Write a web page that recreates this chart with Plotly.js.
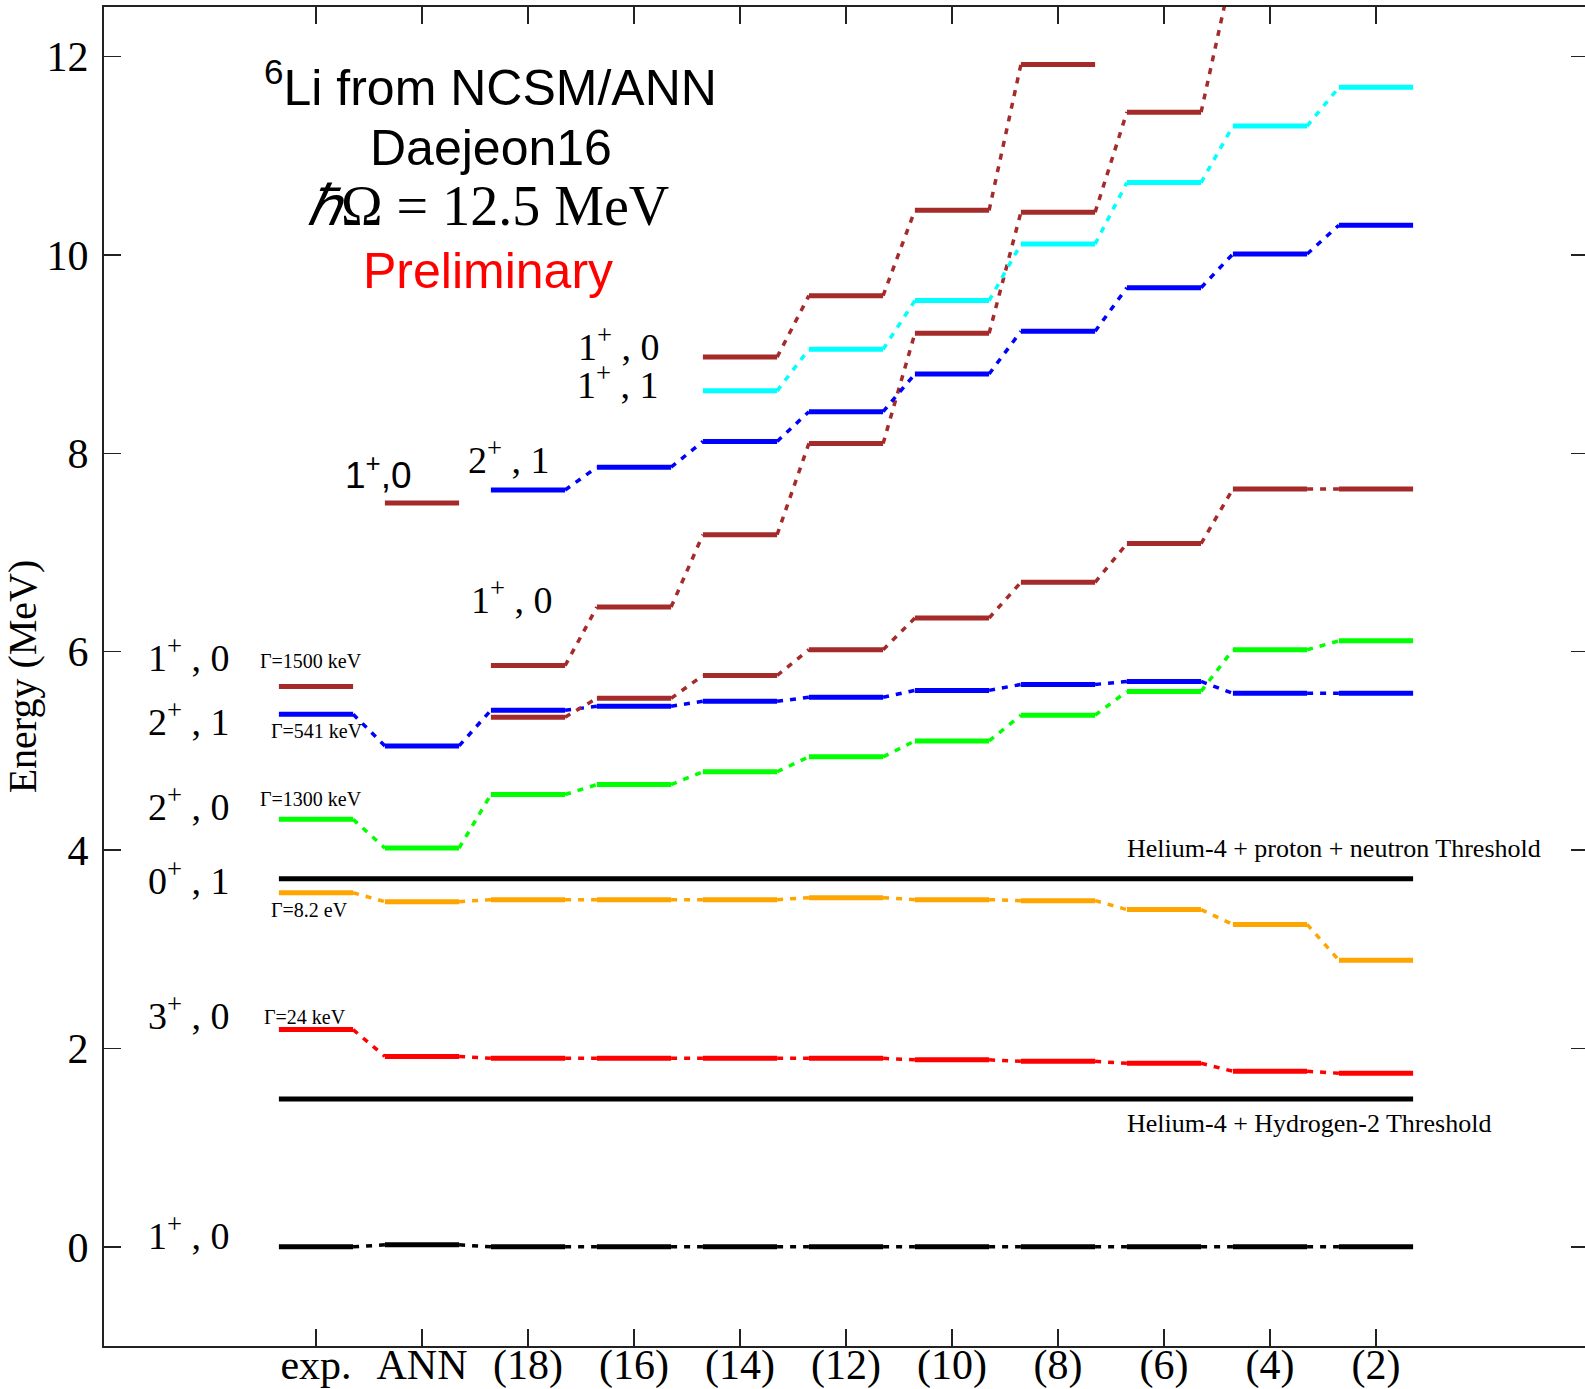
<!DOCTYPE html>
<html>
<head>
<meta charset="utf-8">
<script src="https://cdn.plot.ly/plotly-3.0.1.min.js"></script>
<style>
html, body { margin: 0; padding: 0; overflow: hidden; background: #fff; }
#chart { width: 1590px; height: 1389px; }
</style>
</head>
<body>
<div id="chart"></div>
<script>
// ---- data (energies in MeV) ----
const categories = ['exp.', 'ANN', '(18)', '(16)', '(14)', '(12)', '(10)', '(8)', '(6)', '(4)', '(2)'];

const groundState_1p0 = [0.00, 0.02, 0.00, 0.00, 0.00, 0.00, 0.00, 0.00, 0.00, 0.00, 0.00];
const state_3p0       = [2.19, 1.92, 1.90, 1.90, 1.90, 1.90, 1.885, 1.87, 1.85, 1.77, 1.75];
const state_0p1       = [3.57, 3.48, 3.50, 3.50, 3.50, 3.52, 3.50, 3.49, 3.40, 3.25, 2.89];
const state_2p0       = [4.31, 4.02, 4.56, 4.66, 4.79, 4.94, 5.10, 5.36, 5.60, 6.02, 6.11];
const state_2p1       = [5.37, 5.05, 5.41, 5.45, 5.50, 5.54, 5.61, 5.67, 5.70, 5.58, 5.58];
const state_1p0_single= [5.65, 7.50, null, null, null, null, null, null, null, null, null];
const state_1p0_lowA  = [null, null, 5.34, 5.53, 5.76, 6.02, 6.34, 6.70, 7.09, 7.64, 7.64];
const state_1p0_midB  = [null, null, 5.86, 6.45, 7.18, 8.10, 9.21, 10.43, 11.44, 12.9, null];
const state_1p0_topC  = [null, null, null, null, 8.97, 9.59, 10.45, 11.92, null, null, null];
const state_1p1       = [null, null, null, null, 8.63, 9.05, 9.54, 10.11, 10.73, 11.30, 11.69];
const state_2p1_upper = [null, null, 7.63, 7.86, 8.12, 8.42, 8.80, 9.23, 9.67, 10.01, 10.30];

const thresholds      = [1.49, 3.71];
const thresholdLabels = ['Helium-4 + Hydrogen-2 Threshold', 'Helium-4 + proton + neutron Threshold'];

const yTickVals = [0, 2, 4, 6, 8, 10, 12];

// ---- styles ----
const BROWN = '#A52A2A', CYAN = '#00FFFF', BLUE = '#0000FF', GREEN = '#00FF00',
      ORANGE = '#FFA500', RED = '#FF0000', BLACK = '#000000';
const HALF = 0.35;
const SERIF = 'Liberation Serif, Times New Roman, serif';
const SANS = 'Liberation Sans, Arial, sans-serif';

const series = [
  { vals: groundState_1p0, color: BLACK, connect: true },
  { vals: state_3p0, color: RED, connect: true },
  { vals: state_0p1, color: ORANGE, connect: true },
  { vals: state_2p0, color: GREEN, connect: true },
  { vals: state_2p1, color: BLUE, connect: true },
  { vals: state_1p0_single, color: BROWN, connect: false },
  { vals: state_1p0_lowA, color: BROWN, connect: true },
  { vals: state_1p0_midB, color: BROWN, connect: true },
  { vals: state_1p0_topC, color: BROWN, connect: true },
  { vals: state_1p1, color: CYAN, connect: true },
  { vals: state_2p1_upper, color: BLUE, connect: true }
];

const cols = categories.map((_, i) => i + 1);

function barTrace(vals, color) {
  const x = [], y = [];
  vals.forEach((v, i) => {
    if (v === null) return;
    x.push(cols[i] - HALF, cols[i] + HALF, null);
    y.push(v, v, null);
  });
  return { type: 'scatter', mode: 'lines', x, y, hoverinfo: 'skip',
           line: { color, width: 5 }, showlegend: false };
}
function connectorTrace(vals, color) {
  const x = [], y = [];
  for (let i = 0; i < vals.length - 1; i++) {
    if (vals[i] === null || vals[i + 1] === null) continue;
    x.push(cols[i] + HALF, cols[i + 1] - HALF, null);
    y.push(vals[i], vals[i + 1], null);
  }
  return { type: 'scatter', mode: 'lines', x, y, hoverinfo: 'skip',
           line: { color, width: 3.5, dash: '6px,7px' }, showlegend: false };
}

const traces = [];
series.forEach(s => { if (s.connect) traces.push(connectorTrace(s.vals, s.color)); });
thresholds.forEach(t => {
  traces.push({ type: 'scatter', mode: 'lines', x: [cols[0] - HALF, cols[cols.length - 1] + HALF],
                y: [t, t], line: { color: BLACK, width: 5 }, hoverinfo: 'skip', showlegend: false });
});
series.forEach(s => traces.push(barTrace(s.vals, s.color)));

// ---- annotations ----
function ann(text, x, y, size, family, opts) {
  return Object.assign({ text, x, y, xref: 'x', yref: 'y', showarrow: false,
    xanchor: 'center', yanchor: 'middle', font: { size, family, color: BLACK } }, opts || {});
}
const sp = (a, b) => a + '<sup>+</sup> , ' + b;
const annotations = [
  ann('<sup>6</sup>Li from NCSM/ANN', 2.65, 11.72, 50, SANS),
  ann('Daejeon16', 2.65, 11.08, 50, SANS),
  ann('<i>ℏ</i>Ω = 12.5 MeV', 2.62, 10.49, 56, SERIF),
  ann('Preliminary', 2.62, 9.84, 50, SANS, { font: { size: 50, family: SANS, color: RED } }),

  ann(sp(1, 0), -0.2, 0.14, 38, SERIF),
  ann(sp(3, 0), -0.2, 2.36, 38, SERIF),
  ann(sp(0, 1), -0.2, 3.72, 38, SERIF),
  ann(sp(2, 0), -0.2, 4.46, 38, SERIF),
  ann(sp(2, 1), -0.2, 5.32, 38, SERIF),
  ann(sp(1, 0), -0.2, 5.97, 38, SERIF),

  ann('Γ=1500 keV', 0.453, 5.91, 20, SERIF, { xanchor: 'left' }),
  ann('Γ=541 keV', 0.557, 5.20, 20, SERIF, { xanchor: 'left' }),
  ann('Γ=1300 keV', 0.453, 4.51, 20, SERIF, { xanchor: 'left' }),
  ann('Γ=8.2 eV', 0.557, 3.40, 20, SERIF, { xanchor: 'left' }),
  ann('Γ=24 keV', 0.49, 2.32, 20, SERIF, { xanchor: 'left' }),

  ann(thresholdLabels[1], 8.63, 4.02, 26, SERIF, { xanchor: 'left' }),
  ann(thresholdLabels[0], 8.63, 1.24, 26, SERIF, { xanchor: 'left' }),

  ann(sp(1, 0), 3.86, 9.10, 38, SERIF),
  ann(sp(1, 1), 3.85, 8.72, 38, SERIF),
  ann(sp(2, 1), 2.82, 7.96, 38, SERIF),
  ann(sp(1, 0), 2.85, 6.55, 38, SERIF),
  ann('1<sup>+</sup>,0', 1.585, 7.81, 37, SANS)
];

const layout = {
  width: 1590, height: 1389,
  margin: { l: 104, r: 2, t: 7, b: 43 },
  paper_bgcolor: '#fff', plot_bgcolor: '#fff',
  showlegend: false,
  xaxis: {
    range: [-1, 13], tickvals: cols, ticktext: categories,
    ticks: 'inside', ticklen: 17, tickwidth: 1.5, tickcolor: '#222',
    showline: true, linecolor: '#222', linewidth: 2, mirror: 'ticks',
    showgrid: false, zeroline: false, ticklabelstandoff: -19,
    tickfont: { family: SERIF, size: 42, color: BLACK }
  },
  yaxis: {
    range: [-1, 12.5], tickvals: yTickVals,
    ticks: 'inside', ticklen: 17, tickwidth: 1.5, tickcolor: '#222',
    showline: true, linecolor: '#222', linewidth: 2, mirror: 'ticks',
    showgrid: false, zeroline: false, ticklabelstandoff: 5,
    tickfont: { family: SERIF, size: 42, color: BLACK },
    title: { text: 'Energy (MeV)', font: { family: SERIF, size: 40, color: BLACK }, standoff: 0 }
  },
  annotations
};

Plotly.newPlot('chart', traces, layout, { displayModeBar: false, staticPlot: true });
</script>
</body>
</html>
